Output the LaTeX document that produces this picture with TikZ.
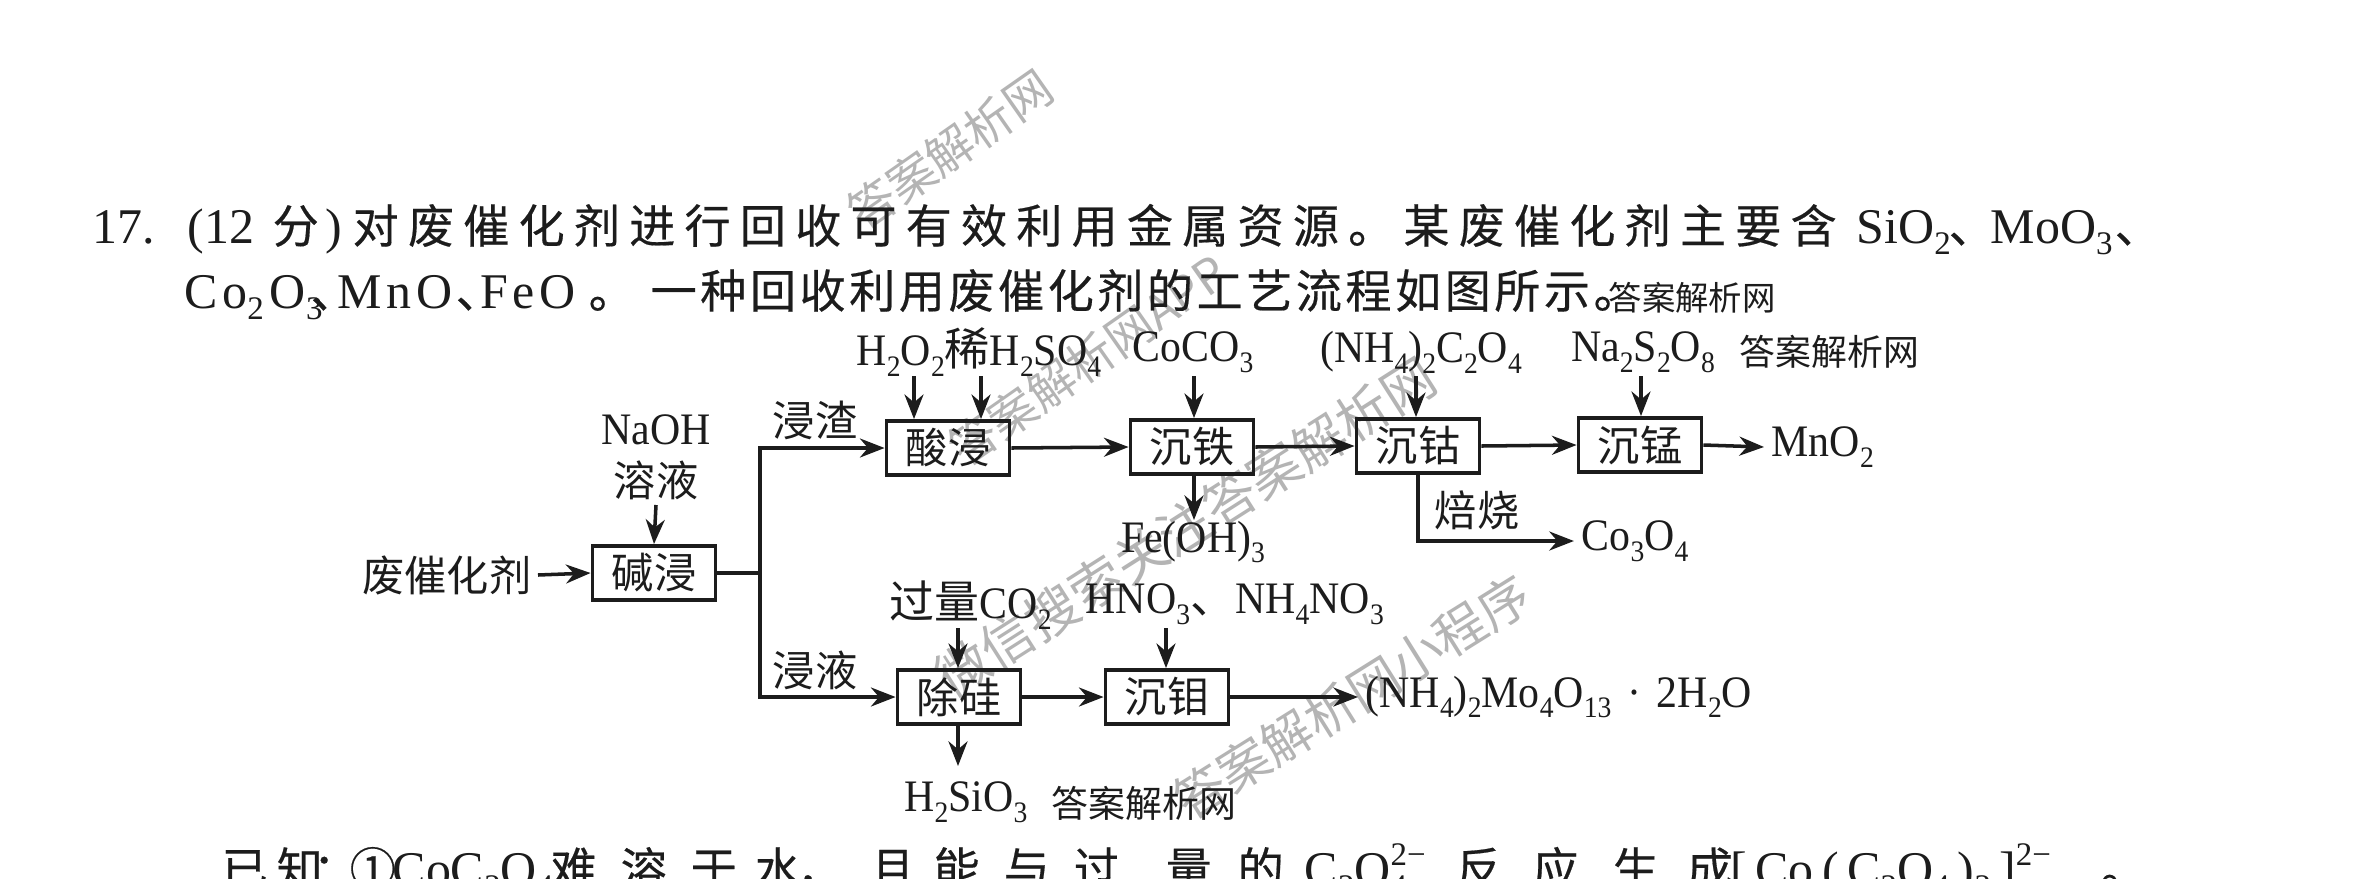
\documentclass[tikz,border=0pt]{standalone}
\usepackage{fontspec}
\usepackage{graphicx}
\setmainfont{Liberation Serif}
\newfontfamily\cjk{Noto Sans CJK SC}
\newfontfamily\cjkT[FakeBold=0.4]{Noto Sans CJK SC}
\newfontfamily\latW[LetterSpace=9]{Liberation Serif}
\newfontfamily\latN[FakeStretch=0.93]{Liberation Serif}
\usetikzlibrary{arrows.meta}
\newlength\pxu
\setlength\pxu{0.01cm}
\definecolor{ink}{HTML}{1C1C1C}
\definecolor{wmgray}{HTML}{B4B4B4}
\makeatletter
\def\spreadchars#1{\spread@a#1\@nil}
\def\spread@a#1{#1\spread@b}
\def\spread@b#1{\ifx\@nil#1\else\hfil#1\expandafter\spread@b\fi}
\makeatother
\newcommand\sbs[1]{\raisebox{-0.24em}{\scalebox{0.66}{#1}}}
\newcommand\sps[1]{\raisebox{0.42em}{\scalebox{0.66}{#1}}}
\newcommand\tcj{\cjkT\fontsize{13.1}{15}\selectfont}
\newcommand\tla{\rmfamily\fontsize{14.2}{16}\selectfont}
\newcommand\tlw{\latW\fontsize{14.2}{16}\selectfont}
\newcommand\dcj{\cjk\fontsize{12}{14}\selectfont}
\newcommand\dla{\latN\fontsize{12.8}{14}\selectfont}
\begin{document}
\begin{tikzpicture}[x=0.01cm,y=-0.01cm,
  tt/.style={anchor=base west,inner sep=0pt,text=ink},
  box/.style={draw=ink,line width=1.1pt,minimum width=123\pxu,minimum height=54\pxu,inner sep=0pt,font=\dcj,text=ink},
  lbl/.style={inner sep=0pt,font=\dcj,text=ink},
  chem/.style={inner ysep=0pt,inner xsep=2pt,font=\dla,text=ink},
  arr/.style={line width=1pt,draw=ink,-{Stealth[length=7pt,width=5.4pt]}},
  ln/.style={line width=1pt,draw=ink},
  wm/.style={inner sep=0pt,text=ink},
  dwm/.style={inner sep=0pt,text=wmgray}]
\fill[white] (0,0) rectangle (2375,878);
\useasboundingbox (0,0) rectangle (2375,878);

% diagonal watermarks (underneath)
\node[dwm,rotate=35,font=\cjk\fontsize{13.5}{15}\selectfont] (w1) at (950,150) {答案解析网};
\node[dwm,rotate=35,font=\cjk\fontsize{13.5}{15}\selectfont] (w2) at (1088,360) {答案解析网APP};
\node[dwm,rotate=32.5,font=\cjk\fontsize{15}{17}\selectfont] (w3) at (1185,527) {微信搜索关注答案解析网};
\node[dwm,rotate=32,font=\cjk\fontsize{14.5}{16}\selectfont] (w4) at (1352,697) {答案解析网小程序};

% title line 1
\node[tt] (t17) at (92,243) {\tla 17.};
\node[tt] (tpa) at (187,243) {\tla (12};
\node[tt] (tfen) at (272,243) {\tcj 分};
\node[tt] (tpb) at (325,243) {\tla )};
\node[tt] (t1a) at (352,243) {\tcj\makebox[1484\pxu][s]{\spreadchars{对废催化剂进行回收可有效利用金属资源。某废催化剂主要含}}};
\node[tt] (tsio) at (1856,243) {\tla SiO\sbs{2}};
\node[tt] (td1) at (1948,243) {\tcj 、};
\node[tt] (tmoo) at (1990,243) {\tla MoO\sbs{3}};
\node[tt] (td2) at (2114,243) {\tcj 、};

% title line 2
\node[tt] (tco) at (184,308) {\tlw Co\sbs{2}\hspace{0.12em}O\sbs{3}};
\node[tt] (td3) at (310,308) {\tcj 、};
\node[tt] (tmno) at (337,308) {\tlw MnO};
\node[tt] (td4) at (455,308) {\tcj 、};
\node[tt] (tfeo) at (480,308) {\tlw FeO};
\node[tt] (td5) at (588,308) {\tcj 。};
\node[tt] (t2a) at (650,308) {\tcj\makebox[989\pxu][s]{\spreadchars{一种回收利用废催化剂的工艺流程如图所示。}}};
\node[tt,font=\cjk\fontsize{9.5}{11}\selectfont] (wma) at (1608,310) {答案解析网};

% reagents row
\node[chem,anchor=west] (rh2o2) at (849,352) {H\sbs{2}O\sbs{2}{\cjk 稀}H\sbs{2}SO\sbs{4}};
\node[chem] (rcoco3) at (1193,352) {CoCO\sbs{3}};
\node[chem] (rnh4) at (1421,352) {(NH\sbs{4})\sbs{2}C\sbs{2}O\sbs{4}};
\node[chem] (rna) at (1643,352) {Na\sbs{2}S\sbs{2}O\sbs{8}};
\node[wm,anchor=west,font=\cjk\fontsize{10.2}{12}\selectfont] (wmb) at (1739,352) {答案解析网};

% boxes
\node[box] (suanjin) at (948,448) {酸浸};
\node[box] (chentie) at (1192,447) {沉铁};
\node[box] (chengu) at (1418,446) {沉钴};
\node[box] (chenmeng) at (1640,445) {沉锰};
\node[box] (jianjin) at (654,573) {碱浸};
\node[box] (chugui) at (959,697) {除硅};
\node[box] (chenmu) at (1167,697) {沉钼};

% labels
\node[lbl,anchor=east] (feicui) at (532,575) {废催化剂};
\node[chem] (naoh) at (656,430) {NaOH};
\node[lbl] (rongye) at (656,480) {溶液};
\node[lbl] (jinzha) at (815,420) {浸渣};
\node[lbl] (jinye) at (815,670) {浸液};
\node[chem,anchor=west] (mno2) at (1764,447) {MnO\sbs{2}};
\node[chem] (feoh) at (1193,542) {Fe(OH)\sbs{3}};
\node[lbl] (beishao) at (1477,510) {焙烧};
\node[chem] (co3o4) at (1635,541) {Co\sbs{3}O\sbs{4}};
\node[chem,anchor=west] (rco2) at (882,605) {{\cjk 过量}CO\sbs{2}};
\node[chem,anchor=west] (rhno3) at (1078,604) {HNO\sbs{3}{\cjk 、}NH\sbs{4}NO\sbs{3}};
\node[chem,anchor=west] (prod) at (1358,697) {(NH\sbs{4})\sbs{2}Mo\sbs{4}O\sbs{13}\hspace{0.35em}·\hspace{0.35em}2H\sbs{2}O};
\node[chem] (h2sio3) at (966,802) {H\sbs{2}SiO\sbs{3}};
\node[wm,anchor=west,font=\cjk\fontsize{10.5}{12}\selectfont] (wmc) at (1051,803) {答案解析网};

% arrow start points
\coordinate (aH) at (914,376);
\coordinate (aS) at (981,376);
\coordinate (aCo) at (1194,376);
\coordinate (aN) at (1416,376);
\coordinate (aNa) at (1641,376);
\coordinate (aNaOH) at (656,505);
\coordinate (aCO2) at (958,628);
\coordinate (aHN) at (1166,628);
\coordinate (J) at (760,573);
\coordinate (feTop) at (1194,520);
\coordinate (siEnd) at (958,766);

% connectors
\draw[arr] (aH) -- (aH |- suanjin.north);
\draw[arr] (aS) -- (aS |- suanjin.north);
\draw[arr] (aCo) -- (aCo |- chentie.north);
\draw[arr] (aN) -- (aN |- chengu.north);
\draw[arr] (aNa) -- (aNa |- chenmeng.north);
\draw[arr] (aNaOH) -- (jianjin.north);
\draw[arr] (feicui.east) ++(6,0) -- (jianjin.west);
\draw[ln] (jianjin.east) -- (J);
\draw[arr] (J) |- (suanjin.west);
\draw[arr] (J) |- (chugui.west);
\draw[arr] (suanjin.east) -- (chentie.west);
\draw[arr] (chentie.east) -- (chengu.west);
\draw[arr] (chengu.east) -- (chenmeng.west);
\draw[arr] (chenmeng.east) -- (mno2.west);
\draw[arr] (chentie.south -| feTop) -- (feTop);
\draw[arr] (chengu.south) |- (co3o4.west);
\draw[arr] (aCO2) -- (aCO2 |- chugui.north);
\draw[arr] (aHN) -- (aHN |- chenmu.north);
\draw[arr] (chugui.east) -- (chenmu.west);
\draw[arr] (chenmu.east) -- (prod.west);
\draw[arr] (chugui.south -| siEnd) -- (siEnd);

% bottom line (cut off at the page edge)
\foreach \c/\x [count=\i] in {已/221,知/276,：/312,难/550,溶/620,于/690,水/754,，/796,且/869,能/933,与/1003,过/1073,量/1165,的/1237,反/1455,应/1532,生/1612,成/1686,。/2100}
  \node[tt] (bc\i) at (\x,886) {\tcj \c};
\node[tt] (bcirc) at (349,886) {\tcj ①};
\node[tt] (bcoc) at (392,886) {\tla CoC\sbs{2}O\sbs{4}};
\node[tt] (bc2o4) at (1304,886) {\tla C\sbs{2}O\rlap{\sps{2−}}\sbs{4}};
\node[tt] (bcplx) at (1730,886) {\tla [\,Co\,(\,C\sbs{2}O\sbs{4}\,)\sbs{2}\,]\sps{2−}};
\end{tikzpicture}
\end{document}
